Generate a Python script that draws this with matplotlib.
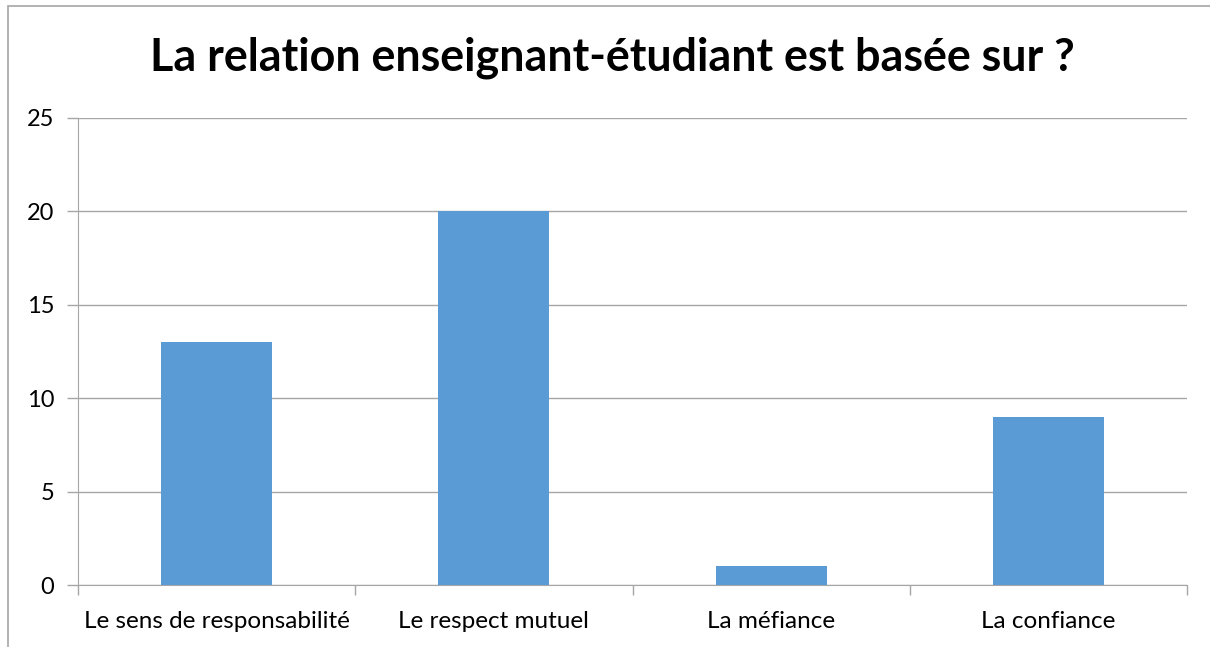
import matplotlib; matplotlib.use("Agg")
import matplotlib.pyplot as plt
import numpy as np
from matplotlib.patches import Rectangle

categories = ['Le sens de responsabilité', 'Le respect mutuel', 'La méfiance', 'La confiance']
values = [13, 20, 1, 9]
yticks = [0, 5, 10, 15, 20, 25]
title = 'La relation enseignant-étudiant est basée sur ?'

plt.rcParams['font.family'] = ['Lato', 'DejaVu Sans']
grid_col = '#a6a6a6'

fig = plt.figure(figsize=(12.1, 6.47), dpi=100)
ax = fig.add_axes([78/1210, 1-585/647, (1187-78)/1210, (585-118)/647])

x = np.arange(len(categories))
ax.bar(x, values, width=0.4, color='#5b9bd5', zorder=3)
ax.set_xlim(-0.5, len(categories)-0.5)
ax.set_ylim(0, 25)
ax.set_yticks(yticks)
ax.set_yticklabels([str(v) for v in yticks], fontsize=17)
ax.yaxis.grid(True, color=grid_col, lw=1, zorder=0)
ax.tick_params(axis='y', length=8, color=grid_col, width=1, pad=9)

ax.set_xticks(x)
ax.set_xticklabels(categories, fontsize=17.5)
ax.tick_params(axis='x', length=0, pad=19)
ax.set_xticks(np.arange(len(categories)+1)-0.5, minor=True)
ax.tick_params(axis='x', which='minor', length=7, color=grid_col, width=1, direction='out')

for s in ['top', 'right']:
    ax.spines[s].set_visible(False)
ax.spines['left'].set_color(grid_col)
ax.spines['bottom'].set_color(grid_col)

fig.text(612/1210, 1-58/647, title, ha='center', va='center', fontsize=32.3, fontweight='bold')

fig.patches.append(Rectangle((8/1210, -0.1), 1.1, 1.1-6/647, transform=fig.transFigure,
                             fill=False, edgecolor=grid_col, lw=1.2))

fig.savefig('out.png', dpi=100)
